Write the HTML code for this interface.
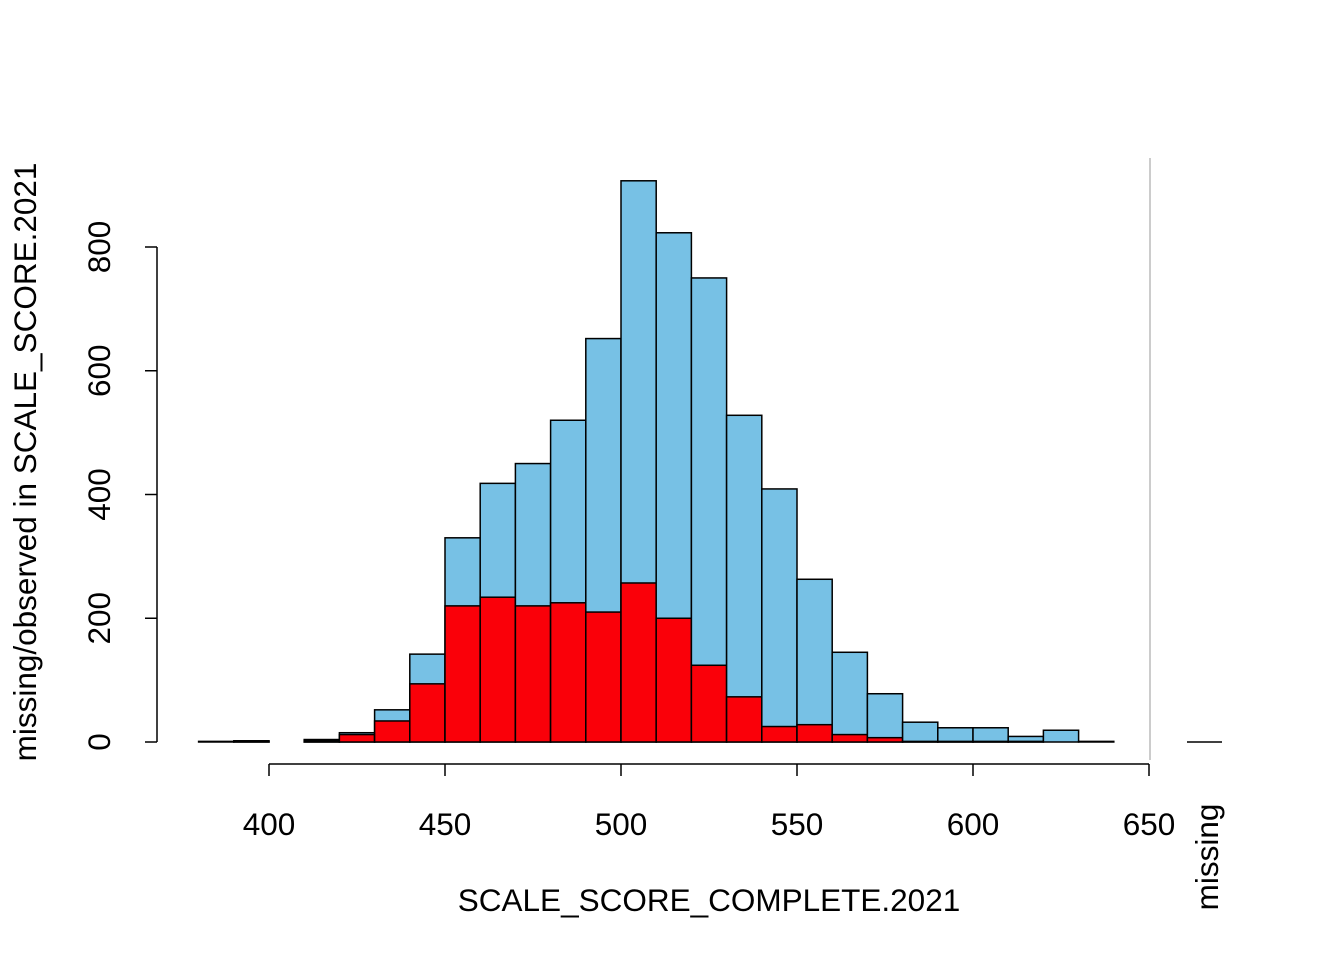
<!DOCTYPE html>
<html><head><meta charset="utf-8"><style>
body{margin:0;background:#fff}
svg text{font-family:"Liberation Sans",Arial,sans-serif;fill:#000}
</style></head><body>
<svg id="chart" width="1344" height="960" xmlns="http://www.w3.org/2000/svg">
<g id="bars"></g>
<g id="axes"></g>
</svg>
<script>
const binStarts=[380,390,400,410,420,430,440,450,460,470,480,490,500,510,520,530,540,550,560,570,580,590,600,610,620,630];
const observedTotals=[1,2,0,4,15,52,142,330,418,450,520,652,907,823,750,528,409,263,145,78,32,23,23,9,19,1];
const missingCounts=[0,1,0,2,12,34,94,220,234,220,225,210,257,200,124,73,25,28,12,7,1,1,1,1,0,0];
const xTicks=[400,450,500,550,600,650];
const yTicks=[0,200,400,600,800];
const binWidth=10;
const NS="http://www.w3.org/2000/svg";
const FS=31.5;
function X(v){return 269+(v-400)*3.52;}
function Y(v){return 742-v*0.61875;}
function mk(tag,attrs,parent){const e=document.createElementNS(NS,tag);for(const k in attrs)e.setAttribute(k,attrs[k]);parent.appendChild(e);return e;}
const bars=document.getElementById('bars'),axes=document.getElementById('axes');
binStarts.forEach((b,i)=>{
  const x0=X(b),x1=X(b+binWidth);
  const r=mk('rect',{x:x0,y:Y(observedTotals[i]),width:x1-x0,height:Y(0)-Y(observedTotals[i]),fill:'#77c1e5',stroke:'#000','stroke-width':1.5},bars);
  
  
  const m=mk('rect',{x:x0,y:Y(missingCounts[i]),width:x1-x0,height:Y(0)-Y(missingCounts[i]),fill:'#fa0009',stroke:'#000','stroke-width':1.5},bars);
  
  
});
const ya=mk('line',{x1:157,x2:157,y1:Y(yTicks[0]),y2:Y(yTicks[yTicks.length-1]),stroke:'#000','stroke-width':1.5},axes);


yTicks.forEach(t=>{
  mk('line',{x1:145,x2:157,y1:Y(t),y2:Y(t),stroke:'#000','stroke-width':1.5},axes);
  const tx=mk('text',{x:0,y:0,'font-size':FS,'text-anchor':'middle',transform:`translate(110,${Y(t)}) rotate(-90)`},axes);
  tx.textContent=t;
  
  
});
const xa=mk('line',{x1:X(xTicks[0]),x2:X(xTicks[xTicks.length-1]),y1:764,y2:764,stroke:'#000','stroke-width':1.5},axes);


xTicks.forEach(t=>{
  mk('line',{x1:X(t),x2:X(t),y1:764,y2:776,stroke:'#000','stroke-width':1.5},axes);
  const tx=mk('text',{x:X(t),y:835,'font-size':FS,'text-anchor':'middle'},axes);
  tx.textContent=t;
  
  
});
const sep=mk('line',{x1:1150,x2:1150,y1:158,y2:760,stroke:'#cccccc','stroke-width':2},axes);


const ml=mk('line',{x1:1187,x2:1222,y1:742,y2:742,stroke:'#000','stroke-width':1.5},axes);


const mt=mk('text',{x:0,y:0,'font-size':FS,'text-anchor':'middle',transform:'translate(1218,857) rotate(-90)'},axes);
mt.textContent='missing';


const xt=mk('text',{x:709,y:911,'font-size':FS,'text-anchor':'middle'},axes);
xt.textContent='SCALE_SCORE_COMPLETE.2021';


const yt=mk('text',{x:0,y:0,'font-size':FS,'text-anchor':'middle',transform:'translate(36,462) rotate(-90)'},axes);
yt.textContent='missing/observed in SCALE_SCORE.2021';


</script>
</body></html>
